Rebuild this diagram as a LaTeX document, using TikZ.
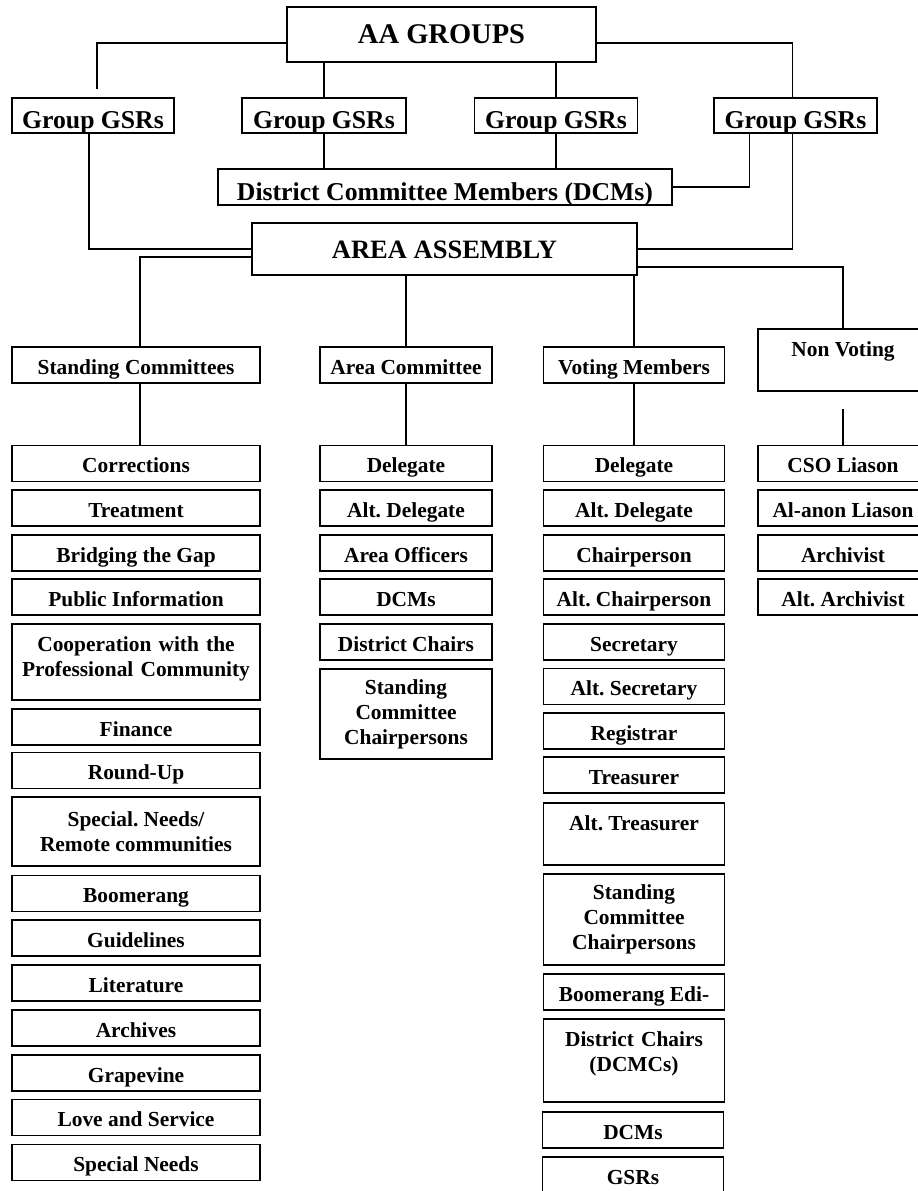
\documentclass[tikz,border=0pt]{standalone}
\usepackage{fontspec}
\setmainfont{Liberation Serif}
\usetikzlibrary{calc}
\frenchspacing
\newcommand{\headfont}{\fontsize{28.5}{32}\selectfont\bfseries}
\newcommand{\midfont}{\fontsize{25.7}{30}\selectfont\bfseries}
\newcommand{\boxfont}{\fontsize{21.4}{25}\selectfont\bfseries}

\begin{document}
\begin{tikzpicture}[x=1pt,y=-1pt,line width=1.5pt,
  head/.style={draw,inner xsep=2pt,text height=18pt,text depth=0pt,font=\headfont},
  gsr/.style={draw,inner xsep=2pt,inner ysep=5pt,text height=25pt,text depth=0pt,minimum height=35pt,font=\midfont},
  box/.style={draw,inner xsep=2pt,inner ysep=7pt,text height=20pt,text depth=2pt,minimum height=36pt,align=center,font=\boxfont},
  tall/.style={draw,inner sep=2pt,align=center,font=\boxfont},
  cola/.style={minimum width=248pt},
  colb/.style={minimum width=172pt},
  colc/.style={minimum width=181pt},
  cold/.style={minimum width=170pt}]
\useasboundingbox (0,0) rectangle (918,1191);
\clip (0,0) rectangle (918,1191);

\node[head,minimum width=309pt,minimum height=55pt] (aa) at (441.5,34.5) {AA GROUPS};
\node[gsr,minimum width=162pt] (gsra) at (93,115.5) {Group GSRs};
\node[gsr,minimum width=164pt] (gsrb) at (324,115.5) {Group GSRs};
\node[gsr,minimum width=163pt] (gsrc) at (556,115.5) {Group GSRs};
\node[gsr,minimum width=163pt] (gsrd) at (795.5,115.5) {Group GSRs};
\node[gsr,minimum width=454pt,minimum height=36pt,text height=26pt] (dcm) at (445,187) {District Committee Members (DCMs)};
\node[head,font=\fontsize{26.5}{30}\selectfont\bfseries,minimum width=385pt,minimum height=52pt] (asm) at (444.5,249) {AREA ASSEMBLY};

\node[box,cola] (stand) at (136,365) {Standing Committees};
\node[box,colb] (areac) at (406,365) {Area Committee};
\node[box,colc] (voting) at (634,365) {Voting Members};
\node[box,cold,text depth=28pt] (nonv) at (843,360) {Non Voting};

\node[box,cola] (corr) at (136,463.5) {Corrections};
\node[box,cola] (treat) at (136,508) {Treatment};
\node[box,cola] (bridge) at (136,553) {Bridging the Gap};
\node[box,cola] (pubinfo) at (136,597) {Public Information};
\node[box,cola,text width=240pt,text depth=42pt] (coop) at (136,662) {Cooperation with the\\Professional Community};
\node[box,cola] (fin) at (136,727) {Finance};
\node[box,cola] (roundup) at (136,770.5) {Round-Up};
\node[tall,cola,minimum height=69pt] (remote) at (136,831.5) {Special. Needs/\\Remote communities};
\node[box,cola] (boom) at (136,893.5) {Boomerang};
\node[box,cola] (guide) at (136,938) {Guidelines};
\node[box,cola] (lit) at (136,983) {Literature};
\node[box,cola] (archives) at (136,1028) {Archives};
\node[box,cola] (grape) at (136,1073) {Grapevine};
\node[box,cola] (love) at (136,1117.5) {Love and Service};
\node[box,cola] (specneeds) at (136,1162.5) {Special Needs};

\node[box,colb] (acdel) at (406,463.5) {Delegate};
\node[box,colb] (acalt) at (406,508) {Alt. Delegate};
\node[box,colb] (acoff) at (406,553) {Area Officers};
\node[box,colb] (acdcm) at (406,597) {DCMs};
\node[box,colb] (acchairs) at (406,642) {District Chairs};
\node[tall,colb,minimum height=90pt] (acscc) at (406,714) {Standing\\Committee\\Chairpersons};

\node[box,colc] (vdel) at (634,463.5) {Delegate};
\node[box,colc] (valtdel) at (634,508) {Alt. Delegate};
\node[box,colc] (vchair) at (634,553) {Chairperson};
\node[box,colc] (valtchair) at (634,597) {Alt. Chairperson};
\node[box,colc] (vsec) at (634,642) {Secretary};
\node[box,colc] (valtsec) at (634,686.5) {Alt. Secretary};
\node[box,colc] (vreg) at (634,731) {Registrar};
\node[box,colc] (vtreas) at (634,775) {Treasurer};
\node[box,colc,text depth=28pt] (valttreas) at (634,834) {Alt. Treasurer};
\node[tall,colc,minimum height=91pt] (vscc) at (634,919.5) {Standing\\Committee\\Chairpersons};
\node[box,colc] (vboom) at (634,992) {Boomerang Edi-};
\node[box,colc,text width=173pt,text depth=49pt] (vdist) at (634,1060.5) {District Chairs\\(DCMCs)};
\node[box,colc] (vdcm) at (633,1130) {DCMs};
\node[box,colc] (vgsr) at (633,1175) {GSRs};

\node[box,cold] (cso) at (843,463.5) {CSO Liason};
\node[box,cold] (alanon) at (843,508) {Al-anon Liason};
\node[box,cold] (archivist) at (843,553) {Archivist};
\node[box,cold] (altarch) at (843,597) {Alt. Archivist};

\coordinate (gapl) at (97,89);
\coordinate (gapr) at (843,409);
\draw ($(aa.west)+(0,8.5)$) -| (gapl);
\draw ($(aa.east)+(0,8.5)$) -| ($(gsrd.north)+(-3,0)$);
\draw (gsrb.north) -- (gsrb.north |- aa.south);
\draw (gsrc.north) -- (gsrc.north |- aa.south);
\draw (gsrb.south) -- (gsrb.south |- dcm.north);
\draw (gsrc.south) -- (gsrc.south |- dcm.north);
\draw ($(gsrd.south)+(-46,0)$) |- (dcm.east);
\draw ($(gsra.south)+(-4,0)$) |- (asm.west);
\draw ($(gsrd.south)+(-3,0)$) |- (asm.east);
\draw ($(asm.west)+(0,8)$) -| ($(stand.north)+(4,0)$);
\draw ($(asm.east)+(0,18)$) -| (nonv.north);
\draw (areac.north) -- (areac.north |- asm.south);
\draw (voting.north) -- (voting.north |- asm.south);
\draw ($(stand.south)+(4,0)$) -- ($(corr.north)+(4,0)$);
\draw (areac.south) -- (acdel.north);
\draw (voting.south) -- (vdel.north);
\draw (gapr) -- (cso.north);
\end{tikzpicture}
\end{document}
